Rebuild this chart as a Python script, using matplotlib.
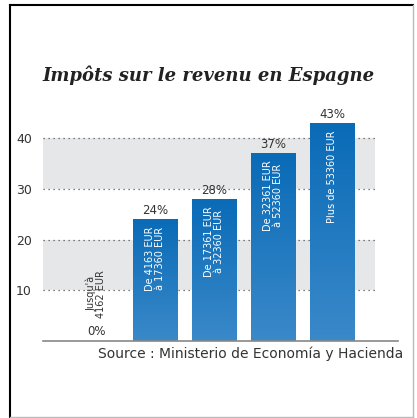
import numpy as np
import matplotlib.pyplot as plt
from matplotlib.lines import Line2D
from matplotlib.colors import LinearSegmentedColormap

# data
brackets = ["Jusqu'à\n4162 EUR", "De 4163 EUR\nà 17360 EUR", "De 17361 EUR\nà 32360 EUR",
            "De 32361 EUR\nà 52360 EUR", "Plus de 53360 EUR"]
rates = [0, 24, 28, 37, 43]
yticks = [10, 20, 30, 40]
bands = [(10, 20), (30, 40)]

fig = plt.figure(figsize=(4.17, 4.18), dpi=100)
ax = fig.add_axes([43 / 417, 77 / 418, 355 / 417, 228 / 418])

x = np.arange(len(rates))
w = 0.75
ax.set_xlim(-0.9, 5.12)
ax.set_ylim(0, 45)

for lo, hi in bands:
    ax.fill_between([-0.9, 4.73], lo, hi, color='#e6e7e9', lw=0, zorder=0)
for t in yticks:
    ax.plot([-0.9, 4.73], [t, t], color='#555555', lw=0.9, ls=(0, (1, 3)), zorder=1)

# gradient bars
grad = np.linspace(0, 1, 100).reshape(-1, 1)
cmap = LinearSegmentedColormap.from_list('b', ['#3a89c9', '#0a6bb7'])
for xi, r in zip(x, rates):
    if r > 0:
        ax.imshow(grad, extent=[xi - w / 2, xi + w / 2, 0, r], origin='lower',
                  cmap=cmap, aspect='auto', zorder=2)
ax.set_aspect('auto')

for xi, r, lab in zip(x, rates, brackets):
    if r > 0:
        ax.annotate(f'{r}%', (xi, r), xytext=(0, 1.5), textcoords='offset points',
                    ha='center', va='bottom', fontsize=8.5, color='#333333')
        ax.annotate(lab, (xi, r), xytext=(0, -5), textcoords='offset points',
                    ha='center', va='top', rotation=90, fontsize=7, color='white',
                    multialignment='center', linespacing=1.0)
    else:
        ax.text(xi, 1.8, f'{r}%', ha='center', va='center', fontsize=8.5, color='#333333')
        ax.text(xi, 4.6, lab, ha='center', va='bottom', rotation=90, fontsize=7,
                color='#333333', multialignment='center', linespacing=1.0)

ax.set_yticks(yticks)
ax.set_yticklabels([str(t) for t in yticks], fontsize=9, color='#333333')
ax.tick_params(axis='y', length=0, pad=8)
ax.set_xticks([])
for s in ['top', 'right', 'left']:
    ax.spines[s].set_visible(False)
ax.spines['bottom'].set_color('#888888')
ax.spines['bottom'].set_linewidth(1.2)

fig.text(0.5, 1 - 75 / 418, 'Impôts sur le revenu en Espagne', ha='center', va='center',
         fontsize=13, fontweight='bold', fontstyle='italic', family='DejaVu Serif',
         color='#222222')
fig.text(403 / 417, 1 - 354 / 418, 'Source : Ministerio de Economía y Hacienda',
         ha='right', va='center', fontsize=10, color='#333333')

# frame
fig.add_artist(Line2D([10 / 417, 10 / 417], [1 / 418, 1 - 5 / 418], color='black', lw=1.5))
fig.add_artist(Line2D([10 / 417, 413 / 417], [1 - 5 / 418, 1 - 5 / 418], color='black', lw=1.5))
fig.add_artist(Line2D([413 / 417, 413 / 417], [1 / 418, 1 - 5 / 418], color='#bbbbbb', lw=1))
fig.add_artist(Line2D([10 / 417, 413 / 417], [1 / 418, 1 / 418], color='#bbbbbb', lw=1))

fig.savefig('out.png', dpi=100)
